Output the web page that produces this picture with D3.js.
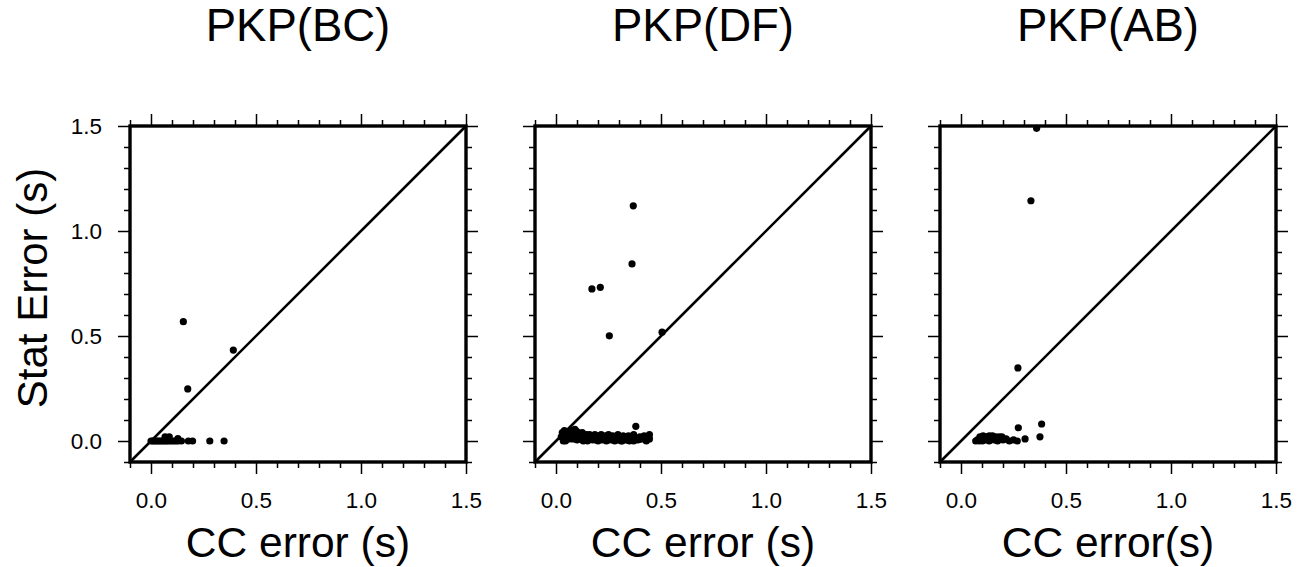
<!DOCTYPE html>
<html>
<head>
<meta charset="utf-8">
<script src="https://cdn.jsdelivr.net/npm/d3@7"></script>
<style>
  html, body { margin: 0; padding: 0; background: #fff; }
  svg { display: block; }
  text { font-family: "Liberation Sans", Arial, Helvetica, sans-serif; fill: #000; }
</style>
</head>
<body>
<svg id="chart" width="1305" height="567"></svg>
<script>
// ---------------- data ----------------
const panelTitles = ["PKP(BC)", "PKP(DF)", "PKP(AB)"];
const xAxisLabels = ["CC error (s)", "CC error (s)", "CC error(s)"];
const yAxisLabel = "Stat Error (s)";
const majorTicks = [0.0, 0.5, 1.0, 1.5];
const minorTicks = [-0.1, 0.1, 0.2, 0.3, 0.4, 0.6, 0.7, 0.8, 0.9, 1.1, 1.2, 1.3, 1.4];
const axisDomain = [-0.1, 1.5];

// PKP(BC)
const bcCC   = [0.154, 0.392, 0.175, 0.000, 0.008, 0.016, 0.024, 0.032, 0.040, 0.048, 0.056, 0.064, 0.072, 0.080, 0.090, 0.100, 0.110, 0.120, 0.130, 0.145, 0.178, 0.198, 0.280, 0.348, 0.067, 0.087, 0.128];
const bcStat = [0.568, 0.433, 0.248, 0.000, 0.000, 0.000, 0.000, 0.000, 0.000, 0.000, 0.000, 0.000, 0.000, 0.000, 0.000, 0.000, 0.000, 0.000, 0.000, 0.000, 0.000, 0.000, 0.000, 0.000, 0.020, 0.020, 0.012];

// PKP(DF)
const dfCC   = [0.368, 0.362, 0.171, 0.211, 0.254, 0.505, 0.380,
                0.025, 0.030, 0.035, 0.040, 0.045, 0.050, 0.055, 0.060, 0.065, 0.070, 0.075, 0.080, 0.085, 0.090, 0.095, 0.100,
                0.105, 0.110, 0.115, 0.120, 0.125, 0.130, 0.135, 0.140, 0.145, 0.150, 0.155, 0.160, 0.165, 0.170, 0.175, 0.180,
                0.185, 0.190, 0.195, 0.200, 0.205, 0.210, 0.215, 0.220, 0.225, 0.230, 0.235, 0.240, 0.245, 0.250, 0.255, 0.260,
                0.265, 0.270, 0.275, 0.280, 0.285, 0.290, 0.295, 0.300, 0.305, 0.310, 0.315, 0.320, 0.325, 0.330, 0.335, 0.340,
                0.345, 0.350, 0.355, 0.360, 0.370, 0.380, 0.390, 0.400, 0.410, 0.420, 0.430, 0.440, 0.445,
                0.045, 0.060, 0.080, 0.100, 0.130, 0.160, 0.190, 0.220, 0.250, 0.280, 0.310, 0.340, 0.370, 0.400, 0.430, 0.445];
const dfStat = [1.120, 0.843, 0.724, 0.732, 0.501, 0.518, 0.070,
                0.020, 0.040, 0.000, 0.050, 0.030, 0.010, 0.045, 0.020, 0.040, 0.030, 0.050, 0.010, 0.040, 0.055, 0.020, 0.045,
                0.030, 0.010, 0.035, 0.020, 0.040, 0.005, 0.025, 0.015, 0.030, 0.000, 0.020, 0.030, 0.010, 0.025, 0.005, 0.020,
                0.030, 0.010, 0.020, 0.000, 0.025, 0.015, 0.030, 0.005, 0.020, 0.010, 0.025, 0.000, 0.015, 0.030, 0.010, 0.020,
                0.005, 0.025, 0.015, 0.000, 0.020, 0.010, 0.030, 0.005, 0.020, 0.015, 0.000, 0.025, 0.010, 0.020, 0.005, 0.015,
                0.025, 0.000, 0.020, 0.010, 0.030, 0.015, 0.005, 0.020, 0.010, 0.025, 0.000, 0.015, 0.030,
                0.000, 0.010, 0.025, 0.005, 0.000, 0.010, 0.005, 0.015, 0.005, 0.010, 0.000, 0.005, 0.000, 0.010, 0.005, 0.010];

// PKP(AB)
const abCC   = [0.360, 0.333, 0.271, 0.273, 0.384, 0.376, 0.305,
                0.070, 0.078, 0.086, 0.094, 0.102, 0.110, 0.118, 0.126, 0.134, 0.142, 0.150, 0.158, 0.166, 0.174, 0.182, 0.190, 0.200, 0.215, 0.230, 0.250, 0.268,
                0.090, 0.105, 0.120, 0.135, 0.150, 0.165, 0.180, 0.195];
const abStat = [1.489, 1.144, 0.348, 0.063, 0.081, 0.020, 0.010,
                0.000, 0.005, 0.000, 0.010, 0.000, 0.015, 0.005, 0.020, 0.000, 0.010, 0.020, 0.005, 0.015, 0.000, 0.020, 0.010, 0.005, 0.010, 0.000, 0.005, 0.000,
                0.020, 0.025, 0.020, 0.025, 0.025, 0.020, 0.015, 0.020];

const panelCC   = [bcCC, dfCC, abCC];
const panelStat = [bcStat, dfStat, abStat];

// ---------------- drawing ----------------
const svg = d3.select("#chart");
const panelSize = 336;
const panelTop = 126;
const panelLefts = [130, 535, 940];

panelTitles.forEach((title, i) => {
  const g = svg.append("g").attr("transform", `translate(${panelLefts[i]},${panelTop})`);
  const x = d3.scaleLinear().domain(axisDomain).range([0, panelSize]);
  const y = d3.scaleLinear().domain(axisDomain).range([panelSize, 0]);

  const styleAxis = (sel) => {
    sel.select(".domain").remove();
    sel.selectAll(".tick line").attr("stroke", "#000").attr("stroke-width", 1.5);
    sel.selectAll(".tick text").attr("font-size", 22.5).attr("font-family", "Liberation Sans, Arial, sans-serif");
  };

  const fmt = d3.format(".1f");
  // major ticks
  g.append("g").attr("transform", `translate(0,${panelSize})`)
    .call(d3.axisBottom(x).tickValues(majorTicks).tickSize(12).tickPadding(18).tickFormat(fmt)).call(styleAxis);
  g.append("g")
    .call(d3.axisTop(x).tickValues(majorTicks).tickSize(12).tickFormat(() => "")).call(styleAxis);
  g.append("g")
    .call(d3.axisLeft(y).tickValues(majorTicks).tickSize(12).tickPadding(16).tickFormat(i === 0 ? fmt : () => "")).call(styleAxis);
  g.append("g").attr("transform", `translate(${panelSize},0)`)
    .call(d3.axisRight(y).tickValues(majorTicks).tickSize(12).tickFormat(() => "")).call(styleAxis);

  // minor ticks
  g.append("g").attr("transform", `translate(0,${panelSize})`)
    .call(d3.axisBottom(x).tickValues(minorTicks).tickSize(6).tickFormat(() => "")).call(styleAxis);
  g.append("g")
    .call(d3.axisTop(x).tickValues(minorTicks).tickSize(6).tickFormat(() => "")).call(styleAxis);
  g.append("g")
    .call(d3.axisLeft(y).tickValues(minorTicks).tickSize(6).tickFormat(() => "")).call(styleAxis);
  g.append("g").attr("transform", `translate(${panelSize},0)`)
    .call(d3.axisRight(y).tickValues(minorTicks).tickSize(6).tickFormat(() => "")).call(styleAxis);

  // diagonal 1:1 line
  g.append("line")
    .attr("x1", x(axisDomain[0])).attr("y1", y(axisDomain[0]))
    .attr("x2", x(axisDomain[1])).attr("y2", y(axisDomain[1]))
    .attr("stroke", "#000").attr("stroke-width", 2.6);

  // points
  const pts = panelCC[i].map((c, k) => ({ c, s: panelStat[i][k] }));
  g.append("g").selectAll("circle").data(pts).join("circle")
    .attr("cx", d => x(d.c)).attr("cy", d => y(d.s)).attr("r", 3.6).attr("fill", "#000");

  // frame
  g.append("rect").attr("x", 0).attr("y", 0).attr("width", panelSize).attr("height", panelSize)
    .attr("fill", "none").attr("stroke", "#000").attr("stroke-width", 3.4);

  // title
  svg.append("text").attr("x", panelLefts[i] + panelSize / 2).attr("y", 41)
    .attr("text-anchor", "middle").attr("font-size", 45.5).text(title);

  // x label
  svg.append("text").attr("x", panelLefts[i] + panelSize / 2).attr("y", 557)
    .attr("text-anchor", "middle").attr("font-size", 42.5).text(xAxisLabels[i]);
});

// y label
svg.append("text")
  .attr("transform", `translate(47,288) rotate(-90)`)
  .attr("text-anchor", "middle").attr("font-size", 42).text(yAxisLabel);
</script>
</body>
</html>
